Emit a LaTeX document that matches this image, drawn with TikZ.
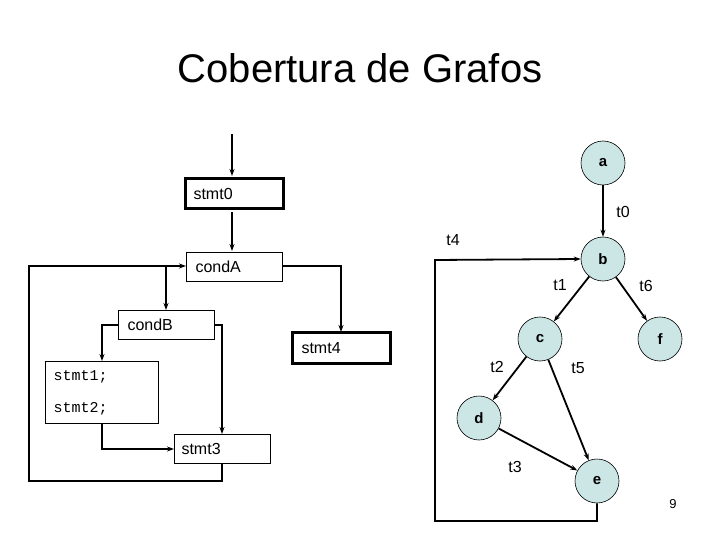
\documentclass[tikz,border=0pt]{standalone}
\usepackage{fontspec}
\setmainfont{Liberation Sans}
\newfontfamily\monof{Liberation Mono}
\usetikzlibrary{arrows.meta}
\definecolor{nodefill}{RGB}{204,230,230}
\begin{document}
\begin{tikzpicture}[x=1pt,y=-1pt,
  box/.style={draw,line width=1pt,inner sep=0pt},
  tbox/.style={draw,line width=3pt,inner sep=0pt},
  lbl/.style={font=\fontsize{16}{18}\selectfont,anchor=west},
  conn/.style={line width=1.8pt,-{Stealth[length=7pt,width=5pt]}},
  circ/.style={circle,draw,fill=nodefill,minimum size=44pt,inner sep=0pt,font=\bfseries\fontsize{15}{17}\selectfont,line width=0.6pt},
  elbl/.style={font=\fontsize{16}{18}\selectfont}]
\useasboundingbox (0,0) rectangle (720,540);
\node[font=\fontsize{40}{46}\selectfont] (title) at (360,68) {Cobertura de Grafos};
% left flowchart
\draw[tbox] (185,179) rectangle (283,209);
\node[lbl] (s0) at (190,194) {stmt0};
\draw[box] (186,252) rectangle (282,281);
\node[lbl] (cA) at (192,267) {condA};
\draw[box] (118,310) rectangle (214,339);
\node[lbl] (cB) at (124,325) {condB};
\draw[tbox] (292,332) rectangle (390,363);
\node[lbl] (s4) at (298,348) {stmt4};
\draw[box] (45,361) rectangle (158,423);
\node[lbl,font=\monof\fontsize{15}{17}\selectfont] (s1) at (50,377) {stmt1;};
\node[lbl,font=\monof\fontsize{15}{17}\selectfont] (s2) at (50,409) {stmt2;};
\draw[box] (174,434) rectangle (270,463);
\node[lbl] (s3) at (178,449) {stmt3};
\coordinate (top) at (232,134);
\coordinate (s0t) at (232,176);
\coordinate (s0b) at (232,212);
\coordinate (cAt) at (232,251);
\draw[conn] (top) -- (s0t);
\draw[conn] (s0b) -- (cAt);
\coordinate (cAl) at (186,266);
\draw[conn] (222,463) -- (222,481) -- (29,481) -- (29,266) -- (cAl);
\draw[conn] (166,266) -- (166,310);
\draw[conn] (282,266) -- (341,266) -- (341,332);
\draw[conn] (118,325) -- (102,325) -- (102,361);
\draw[conn] (214,325) -- (222,325) -- (222,434);
\draw[conn] (102,423) -- (102,449) -- (174,449);
% right graph
\node[circ] (a) at (603,163) {a};
\node[circ] (b) at (603,259) {b};
\node[circ] (c) at (540,339) {c};
\node[circ] (f) at (660,339) {f};
\node[circ] (d) at (479,418) {d};
\node[circ] (e) at (597,481) {e};
\draw[conn] (a) -- (b);
\draw[conn] (b) -- (c);
\draw[conn] (b) -- (f);
\draw[conn] (c) -- (d);
\draw[conn] (c) -- (e);
\draw[conn] (d) -- (e);
\draw[conn] (e.south) -- (597,521) -- (435,521) -- (435,260) -- (b.west);
\node[elbl] (t0) at (623,212) {t0};
\node[elbl] (t4) at (453,240) {t4};
\node[elbl] (t1) at (560,285) {t1};
\node[elbl] (t6) at (646,286) {t6};
\node[elbl] (t2) at (497,367) {t2};
\node[elbl] (t5) at (578,368) {t5};
\node[elbl] (t3) at (515,467) {t3};
\node[font=\fontsize{13}{15}\selectfont] (pg) at (673,504) {9};
\end{tikzpicture}
\end{document}
